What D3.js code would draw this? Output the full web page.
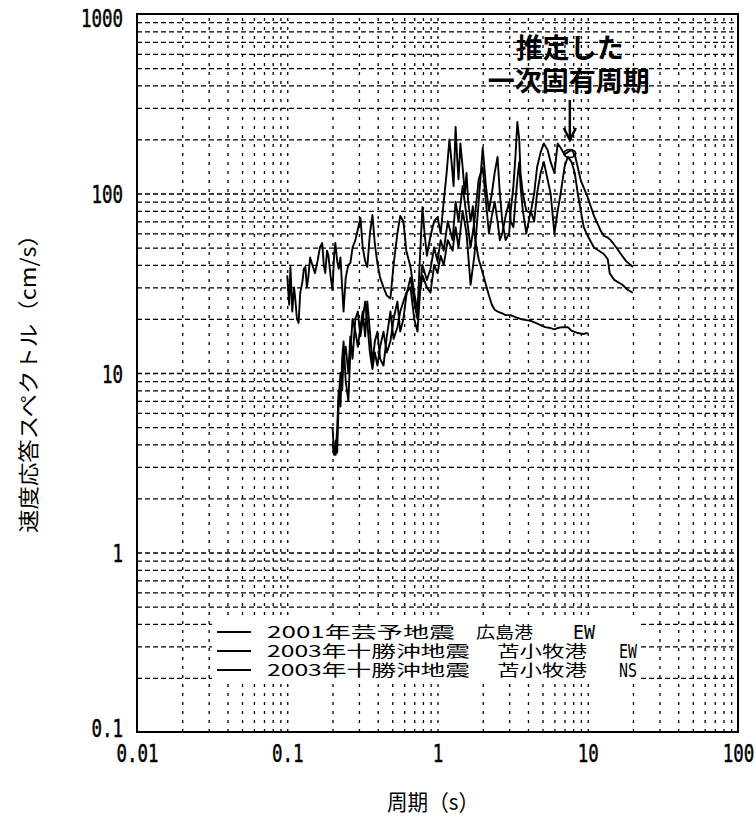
<!DOCTYPE html>
<html>
<head>
<meta charset="utf-8">
<script src="https://cdnjs.cloudflare.com/ajax/libs/d3/7.8.5/d3.min.js"></script>
<style>
body { margin: 0; background: #fff; }
svg { display: block; font-family: "Noto Sans CJK JP", sans-serif; }
</style>
</head>
<body>
<svg width="755" height="820"></svg>
<script>
// ---- data: [period (s), velocity response (cm/s)] ----
var xTickValues = [0.01, 0.1, 1, 10, 100],
    xTickLabels = ["0.01", "0.1", "1", "10", "100"],
    yTickValues = [0.1, 1, 10, 100, 1000],
    yTickLabels = ["0.1", "1", "10", "100", "1000"];

var seriesNames = [
  ["2001年芸予地震", "広島港", "EW"],
  ["2003年十勝沖地震", "苫小牧港", "EW"],
  ["2003年十勝沖地震", "苫小牧港", "NS"]
];

var hiroshimaEW = [
  [0.100,35],[0.103,24],[0.105,39],[0.108,22],[0.111,30],[0.113,26],[0.116,20],[0.119,19],
  [0.122,28],[0.126,32],[0.129,38],[0.132,39],[0.135,30],[0.138,34],[0.142,44],[0.147,40],
  [0.153,36],[0.159,42],[0.165,50],[0.171,53],[0.175,40],[0.179,36],[0.184,48],[0.188,45],
  [0.194,35],[0.200,29],[0.205,45],[0.209,53],[0.215,42],[0.220,38],[0.226,44],[0.232,30],
  [0.237,22],[0.245,34],[0.255,40],[0.263,41],[0.272,50],[0.284,55],[0.295,63],[0.307,73],
  [0.318,50],[0.330,42],[0.341,39],[0.355,60],[0.369,76],[0.383,52],[0.398,41],[0.415,34],
  [0.437,30],[0.460,27],[0.486,26],[0.510,40],[0.541,60],[0.565,75],[0.593,70],[0.620,48],
  [0.661,39],[0.700,28],[0.736,22],[0.765,45],[0.794,84],[0.820,60],[0.850,45],[0.898,58],
  [0.950,70],[1.00,74],[1.05,60],[1.10,90],[1.15,130],[1.20,200],[1.24,150],[1.28,110],
  [1.32,235],[1.35,160],[1.38,120],[1.42,190],[1.47,140],[1.52,100],[1.56,130],[1.60,90],
  [1.66,70],[1.72,85],[1.76,60],[1.82,50],[1.88,43],[1.93,40],[2.0,36],[2.1,31],[2.2,27],
  [2.3,24],[2.4,22.5],[2.51,22],[2.7,21.5],[2.84,21],[3.07,21],[3.3,20.5],[3.57,20],
  [3.9,19.7],[4.17,19.5],[4.5,19],[4.86,18.5],[5.2,18],[5.66,17.8],[6.0,17.5],[6.31,17.8],
  [6.8,18],[7.36,18],[7.8,17.2],[8.58,16.7],[9.3,16.5],[10.0,16.7]
];

var tomakomaiEW = [
  [0.200,5],[0.205,3.6],[0.210,3.5],[0.215,5],[0.220,8],[0.226,6.5],[0.232,12],[0.237,15],
  [0.245,9],[0.255,7],[0.263,13],[0.272,20],[0.284,17],[0.295,14],[0.307,18],[0.318,22],
  [0.330,16],[0.341,25],[0.355,17],[0.369,11.4],[0.383,15],[0.398,17],[0.415,12],[0.437,11],
  [0.460,16],[0.486,22],[0.510,15.5],[0.541,18],[0.565,22],[0.593,25],[0.620,28],[0.661,30],
  [0.700,20],[0.736,17],[0.765,28],[0.794,35],[0.850,30],[0.898,28],[0.950,40],[1.00,36],
  [1.05,45],[1.10,40],[1.17,55],[1.26,48],[1.32,65],[1.38,50],[1.47,80],[1.56,60],[1.66,31],
  [1.76,45],[1.88,90],[2.0,180],[2.1,110],[2.2,80],[2.3,100],[2.4,130],[2.51,160],[2.6,100],
  [2.7,70],[2.84,55],[3.0,60],[3.07,80],[3.2,110],[3.3,160],[3.4,250],[3.5,200],[3.57,130],
  [3.7,100],[3.9,80],[4.17,78],[4.4,100],[4.6,140],[4.86,170],[5.1,190],[5.4,175],[5.66,150],
  [6.0,130],[6.31,190],[6.6,180],[7.0,165],[7.36,170],[7.8,175],[8.2,165],[8.58,140],[9.0,118],
  [10.0,95],[11.0,75],[12.2,62],[12.8,58],[13.5,57],[14.2,55],[15.5,50],[16.6,46],[18.0,42],
  [20.0,39]
];

var tomakomaiNS = [
  [0.200,4],[0.205,3.5],[0.210,4.2],[0.215,3.6],[0.220,7],[0.226,10],[0.232,8],[0.237,12],
  [0.245,14],[0.255,10],[0.263,16],[0.272,12],[0.284,20],[0.295,22],[0.307,16],[0.318,20],
  [0.330,25],[0.341,19],[0.355,13],[0.369,10.5],[0.383,13],[0.398,11],[0.415,14],[0.437,17],
  [0.460,13],[0.486,15],[0.510,20],[0.541,25],[0.565,17],[0.593,20],[0.620,27],[0.661,34],
  [0.700,25],[0.736,20],[0.765,30],[0.794,40],[0.850,33],[0.898,38],[0.950,50],[1.00,42],
  [1.05,55],[1.10,48],[1.17,70],[1.26,55],[1.32,90],[1.38,70],[1.47,110],[1.56,75],[1.66,50],
  [1.76,70],[1.88,120],[2.0,140],[2.1,90],[2.2,60],[2.3,75],[2.4,90],[2.51,70],[2.6,55],
  [2.7,60],[2.84,75],[3.0,90],[3.07,70],[3.2,65],[3.3,90],[3.4,120],[3.5,150],[3.57,110],
  [3.7,80],[3.9,60],[4.17,80],[4.4,70],[4.6,100],[4.86,130],[5.1,150],[5.4,120],[5.66,100],
  [6.0,60],[6.31,80],[6.6,100],[7.0,140],[7.36,160],[7.8,150],[8.2,130],[8.58,100],[9.4,65],
  [10.0,58],[11.0,50],[12.8,46],[13.6,43],[14.0,36],[15.0,33],[17.0,31],[18.5,29],[20.0,28]
];

// estimated first natural period marked on the chart
var markPeriod = 7.6, markValue = 167;

var svg = d3.select("svg"),
    margin = {top: 14, right: 17, bottom: 88, left: 137},
    w = +svg.attr("width") - margin.left - margin.right,
    h = +svg.attr("height") - margin.top - margin.bottom;

//log scales on both axes
var x = d3.scaleLog().domain([0.01, 100]).range([0, w]),
    y = d3.scaleLog().domain([0.1, 1000]).range([h, 0]);

var g = svg.append("g")
    .attr("transform", "translate(" + margin.left + "," + margin.top + ")");

//dashed grid at every 1..9 of each decade
var xGrid = x.ticks().filter(function(d) { return d > 0.01 && d < 100; }),
    yGrid = y.ticks().filter(function(d) { return d > 0.1 && d < 1000; });

g.append("g")
    .attr("class", "grid grid--x")
    .attr("transform", "translate(0," + h + ")")
    .call(d3.axisBottom(x).tickValues(xGrid).tickSize(-h).tickFormat(""))
    .call(function(s) { s.select(".domain").remove(); })
    .selectAll("line")
    .attr("stroke", "#000")
    .attr("stroke-width", 1.3)
    .attr("stroke-dasharray", "3,6");

g.append("g")
    .attr("class", "grid grid--y")
    .call(d3.axisLeft(y).tickValues(yGrid).tickSize(-w).tickFormat(""))
    .call(function(s) { s.select(".domain").remove(); })
    .selectAll("line")
    .attr("stroke", "#000")
    .attr("stroke-width", 1.3)
    .attr("stroke-dasharray", "5,3");

//tick labels (narrow, tall monospace digits)
var sx = 0.7,
    tickFont = "'DejaVu Sans Mono', monospace";

var xAxis = g.append("g")
    .attr("class", "axis axis--x")
    .attr("transform", "translate(0," + h + ")")
    .call(d3.axisBottom(x).tickValues(xTickValues).tickSize(0).tickPadding(0)
      .tickFormat(function(d, i) { return xTickLabels[i]; }));
xAxis.select(".domain").remove();
xAxis.selectAll("text")
    .attr("y", 21)
    .attr("dy", "0.36em")
    .attr("font-size", 25)
    .attr("font-family", tickFont)
    .attr("fill", "#000")
    .attr("stroke", "#000")
    .attr("stroke-width", 0.5)
    .attr("transform", "scale(" + sx + ",1)");

var yAxis = g.append("g")
    .attr("class", "axis axis--y")
    .call(d3.axisLeft(y).tickValues(yTickValues).tickSize(0).tickPadding(0)
      .tickFormat(function(d, i) { return yTickLabels[i]; }));
yAxis.select(".domain").remove();
yAxis.selectAll("text")
    .attr("x", -14 / sx)
    .attr("y", function(d) { return d === 0.1 ? -5 : d === 1000 ? 3 : 0; })
    .attr("dy", "0.36em")
    .attr("font-size", 25)
    .attr("font-family", tickFont)
    .attr("fill", "#000")
    .attr("stroke", "#000")
    .attr("stroke-width", 0.5)
    .attr("transform", "scale(" + sx + ",1)");

//curves
var line = d3.line()
    .x(function(d) { return x(d[0]); })
    .y(function(d) { return y(d[1]); });

[hiroshimaEW, tomakomaiEW, tomakomaiNS].forEach(function(s) {
  g.append("path")
    .datum(s)
    .attr("fill", "none")
    .attr("stroke", "#000")
    .attr("stroke-width", 1.9)
    .attr("stroke-linejoin", "round")
    .attr("d", line);
});

//legend box over the grid
var leg = g.append("g").attr("class", "legend");
leg.append("rect")
    .attr("x", 212 - margin.left)
    .attr("y", 619 - margin.top)
    .attr("width", 428)
    .attr("height", 64)
    .attr("fill", "#fff");

var rowY = [632, 651, 670],
    partX = [[267, 476, 573], [267, 497, 619], [267, 497, 619]],
    partW = [[188, 57, 22], [203, 90, 18], [203, 90, 18]];

seriesNames.forEach(function(parts, i) {
  leg.append("line")
    .attr("x1", 217 - margin.left).attr("x2", 251 - margin.left)
    .attr("y1", rowY[i] - margin.top).attr("y2", rowY[i] - margin.top)
    .attr("stroke", "#000")
    .attr("stroke-width", 1.8);
  parts.forEach(function(p, j) {
    leg.append("text")
      .attr("x", partX[i][j] - margin.left)
      .attr("y", rowY[i] - margin.top)
      .attr("dy", "0.36em")
      .attr("font-size", j === 2 ? 20 : 16)
      .attr("font-family", j === 2 ? tickFont : null)
      .attr("textLength", partW[i][j])
      .attr("lengthAdjust", "spacingAndGlyphs")
      .text(p);
  });
});

//frame
g.append("rect")
    .attr("width", w)
    .attr("height", h)
    .attr("fill", "none")
    .attr("stroke", "#000")
    .attr("stroke-width", 2);

//annotation: estimated first natural period
var ax = x(markPeriod);
g.append("text")
    .attr("x", ax).attr("y", 48 - margin.top)
    .attr("dy", "0.36em")
    .attr("text-anchor", "middle")
    .attr("font-size", 27)
    .attr("font-weight", "bold")
    .text("推定した");
g.append("text")
    .attr("x", ax - 1).attr("y", 81 - margin.top)
    .attr("dy", "0.36em")
    .attr("text-anchor", "middle")
    .attr("font-size", 27)
    .attr("font-weight", "bold")
    .text("一次固有周期");
g.append("line")
    .attr("x1", ax).attr("x2", ax)
    .attr("y1", 100 - margin.top).attr("y2", 138 - margin.top)
    .attr("stroke", "#000")
    .attr("stroke-width", 2.5);
g.append("path")
    .attr("d", "M" + (ax - 6) + "," + (128 - margin.top) + "L" + ax + "," + (140 - margin.top) + "L" + (ax + 6) + "," + (128 - margin.top))
    .attr("fill", "none")
    .attr("stroke", "#000")
    .attr("stroke-width", 2.5);
g.append("ellipse")
    .attr("cx", ax).attr("cy", y(markValue))
    .attr("rx", 6).attr("ry", 4)
    .attr("fill", "none")
    .attr("stroke", "#000")
    .attr("stroke-width", 1.5);

//axis titles
svg.append("text")
    .attr("transform", "translate(28,378) rotate(-90)")
    .attr("text-anchor", "middle")
    .attr("dy", "0.36em")
    .attr("font-size", 21)
    .attr("textLength", 310)
    .attr("lengthAdjust", "spacingAndGlyphs")
    .text("速度応答スペクトル（cm/s）");

svg.append("text")
    .attr("x", 433).attr("y", 802)
    .attr("text-anchor", "middle")
    .attr("dy", "0.36em")
    .attr("font-size", 22)
    .attr("textLength", 92)
    .attr("lengthAdjust", "spacingAndGlyphs")
    .text("周期（s）");
</script>
</body>
</html>
